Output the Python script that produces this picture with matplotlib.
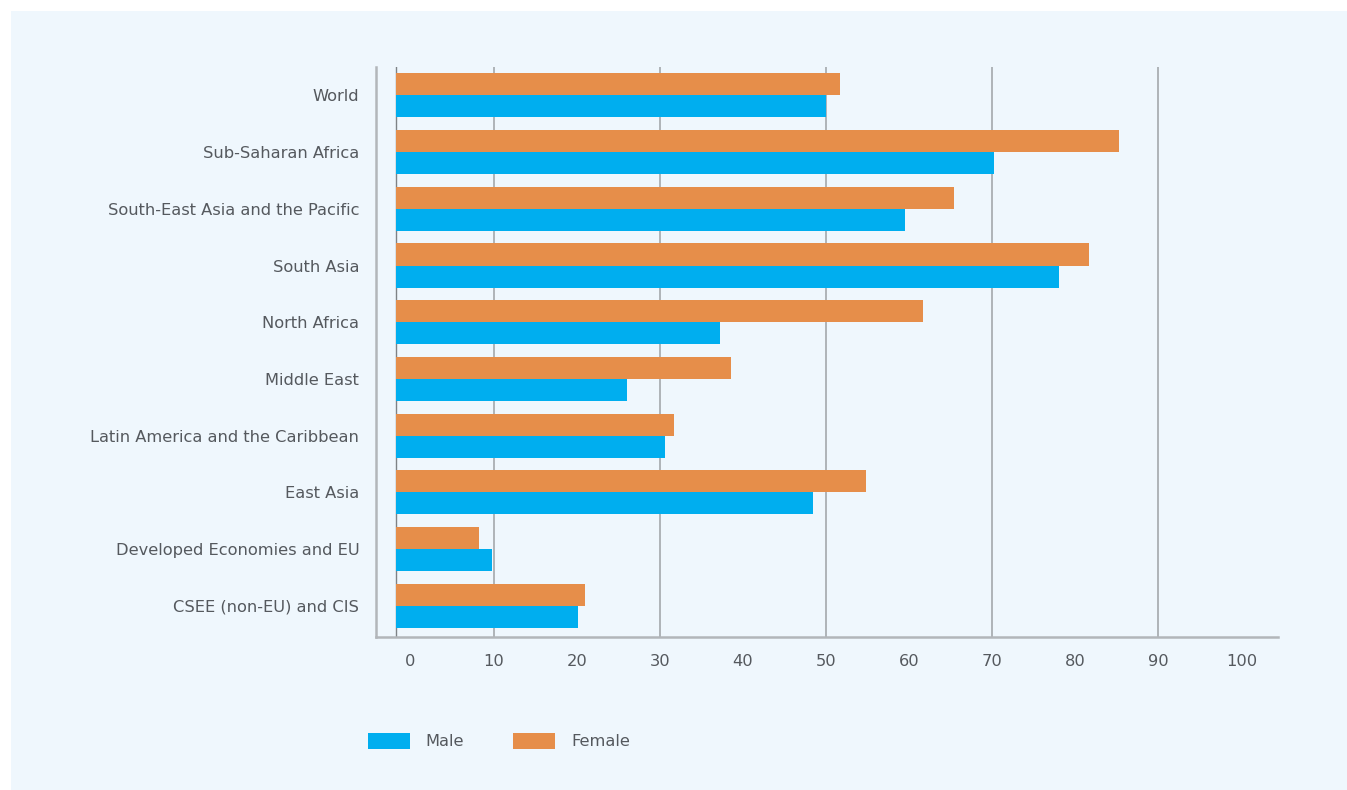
import numpy as np
import matplotlib
matplotlib.use("Agg")
import matplotlib.pyplot as plt
from matplotlib.patches import Rectangle

# ── Data ──────────────────────────────────────────────────────────────────────
regions = ['World', 'Sub-Saharan Africa', 'South-East Asia and the Pacific',
           'South Asia', 'North Africa', 'Middle East',
           'Latin America and the Caribbean', 'East Asia',
           'Developed Economies and EU', 'CSEE (non-EU) and CIS']
male = [50.0, 70.2, 59.5, 78.1, 37.3, 26.1, 30.6, 48.4, 9.8, 20.1]
female = [51.7, 85.3, 65.4, 81.7, 61.7, 38.6, 31.7, 54.8, 8.3, 21.0]
xticks = list(range(0, 101, 10))
grid_vals = [10, 30, 50, 70, 90]

# ── Style ─────────────────────────────────────────────────────────────────────
c_male = '#00AEEF'
c_female = '#E68E4A'
bg = '#EFF7FD'
txt = '#55595E'
bar_base = -1.75   # bars in the original start slightly left of 0
h = 0.39

fig = plt.figure(figsize=(13.47, 7.90), dpi=100)
fig.patch.set_facecolor('white')
fig.patches.append(Rectangle((11 / 1347, 0), 1, 1 - 11 / 790,
                             transform=fig.transFigure, facecolor=bg,
                             edgecolor='none', zorder=-10))

ax = fig.add_axes([376 / 1347, 153 / 790, 902 / 1347, 570 / 790])
ax.set_facecolor('none')

y = np.arange(len(regions))
ax.barh(y - h / 2, np.array(female) - bar_base, left=bar_base, height=h,
        color=c_female, label='Female', zorder=3)
ax.barh(y + h / 2, np.array(male) - bar_base, left=bar_base, height=h,
        color=c_male, label='Male', zorder=3)

# vertical guides
for g in grid_vals:
    ax.axvline(g, color='#A4A8AC', linewidth=1.2, zorder=1)
ax.axvline(bar_base, color='#7E8286', linewidth=1.0, zorder=1)

ax.set_xlim(-4.15, 104.4)
ax.set_ylim(len(regions) - 0.45, -0.5)
ax.set_yticks(y)
ax.set_yticklabels(regions)
ax.set_xticks(xticks)
ax.tick_params(axis='both', length=0, labelsize=11.7, labelcolor=txt)
ax.tick_params(axis='y', pad=12)
ax.tick_params(axis='x', pad=12)

for s in ['top', 'right']:
    ax.spines[s].set_visible(False)
for s in ['left', 'bottom']:
    ax.spines[s].set_color('#B2B6BA')
    ax.spines[s].set_linewidth(1.8)

handles, labels = ax.get_legend_handles_labels()
fig.legend(handles[::-1], labels[::-1], loc='center left',
           bbox_to_anchor=(368 / 1347, 1 - 741 / 790), ncol=2, frameon=False,
           fontsize=11.7, labelcolor=txt, handlelength=2.56, handleheight=1.2,
           handletextpad=1.0, columnspacing=3.0, borderpad=0, borderaxespad=0)

fig.savefig('out.png', dpi=100, facecolor=fig.get_facecolor())
